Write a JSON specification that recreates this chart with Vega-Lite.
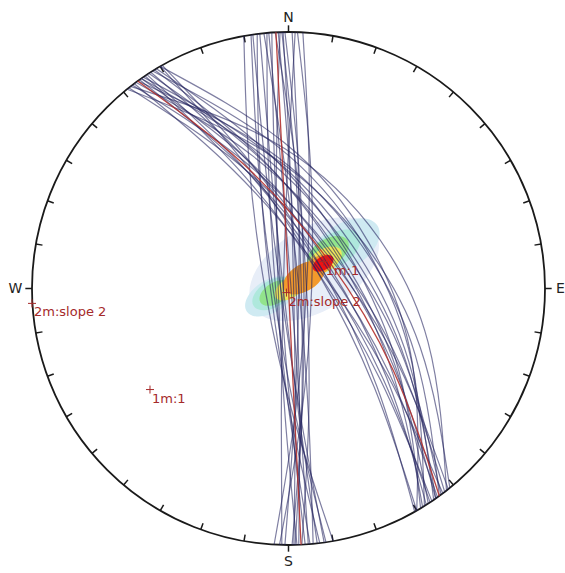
{
"$schema":"https://vega.github.io/schema/vega-lite/v6.json",
"width":513,"height":513,"autosize":{"type":"none"},
"padding":{"left":32,"top":32,"right":20,"bottom":28},
"background":"white","view":{"stroke":null},
"datasets":{
"curves":[
{"g":1,"m":0,"i":0,"x":-0.174,"y":0.985},{"g":1,"m":0,"i":1,"x":-0.153,"y":0.481},{"g":1,"m":0,"i":2,"x":-0.089,"y":-0.016},{"g":1,"m":0,"i":3,"x":0.020,"y":-0.504},{"g":1,"m":0,"i":4,"x":0.174,"y":-0.985},
{"g":2,"m":0,"i":0,"x":-0.146,"y":0.989},{"g":2,"m":0,"i":1,"x":-0.118,"y":0.488},{"g":2,"m":0,"i":2,"x":-0.059,"y":-0.009},{"g":2,"m":0,"i":3,"x":0.029,"y":-0.501},{"g":2,"m":0,"i":4,"x":0.146,"y":-0.989},
{"g":3,"m":0,"i":0,"x":-0.139,"y":0.990},{"g":3,"m":0,"i":1,"x":-0.092,"y":0.492},{"g":3,"m":0,"i":2,"x":-0.030,"y":-0.004},{"g":3,"m":0,"i":3,"x":0.047,"y":-0.498},{"g":3,"m":0,"i":4,"x":0.139,"y":-0.990},
{"g":4,"m":0,"i":0,"x":-0.122,"y":0.993},{"g":4,"m":0,"i":1,"x":-0.113,"y":0.490},{"g":4,"m":0,"i":2,"x":-0.069,"y":-0.009},{"g":4,"m":0,"i":3,"x":0.009,"y":-0.503},{"g":4,"m":0,"i":4,"x":0.122,"y":-0.993},
{"g":5,"m":0,"i":0,"x":-0.112,"y":0.994},{"g":5,"m":0,"i":1,"x":-0.071,"y":0.495},{"g":5,"m":0,"i":2,"x":-0.020,"y":-0.002},{"g":5,"m":0,"i":3,"x":0.041,"y":-0.499},{"g":5,"m":0,"i":4,"x":0.112,"y":-0.994},
{"g":6,"m":0,"i":0,"x":-0.084,"y":0.997},{"g":6,"m":0,"i":1,"x":-0.079,"y":0.495},{"g":6,"m":0,"i":2,"x":-0.050,"y":-0.004},{"g":6,"m":0,"i":3,"x":0.005,"y":-0.501},{"g":6,"m":0,"i":4,"x":0.084,"y":-0.997},
{"g":7,"m":0,"i":0,"x":-0.077,"y":0.997},{"g":7,"m":0,"i":1,"x":-0.031,"y":0.499},{"g":7,"m":0,"i":2,"x":0.010,"y":0.001},{"g":7,"m":0,"i":3,"x":0.046,"y":-0.498},{"g":7,"m":0,"i":4,"x":0.077,"y":-0.997},
{"g":8,"m":0,"i":0,"x":-0.065,"y":0.998},{"g":8,"m":0,"i":1,"x":-0.055,"y":0.498},{"g":8,"m":0,"i":2,"x":-0.030,"y":-0.002},{"g":8,"m":0,"i":3,"x":0.010,"y":-0.501},{"g":8,"m":0,"i":4,"x":0.065,"y":-0.998},
{"g":9,"m":1,"i":0,"x":-0.049,"y":0.999},{"g":9,"m":1,"i":1,"x":-0.024,"y":0.499},{"g":9,"m":1,"i":2,"x":0.0,"y":0.0},{"g":9,"m":1,"i":3,"x":0.024,"y":-0.499},{"g":9,"m":1,"i":4,"x":0.049,"y":-0.999},
{"g":10,"m":0,"i":0,"x":-0.040,"y":0.999},{"g":10,"m":0,"i":1,"x":0.002,"y":0.500},{"g":10,"m":0,"i":2,"x":0.030,"y":0.001},{"g":10,"m":0,"i":3,"x":0.043,"y":-0.499},{"g":10,"m":0,"i":4,"x":0.040,"y":-0.999},
{"g":11,"m":0,"i":0,"x":-0.033,"y":0.999},{"g":11,"m":0,"i":1,"x":-0.047,"y":0.499},{"g":11,"m":0,"i":2,"x":-0.040,"y":-0.001},{"g":11,"m":0,"i":3,"x":-0.013,"y":-0.501},{"g":11,"m":0,"i":4,"x":0.033,"y":-0.999},
{"g":12,"m":0,"i":0,"x":-0.026,"y":1.000},{"g":12,"m":0,"i":1,"x":0.024,"y":0.501},{"g":12,"m":0,"i":2,"x":0.050,"y":0.001},{"g":12,"m":0,"i":3,"x":0.051,"y":-0.499},{"g":12,"m":0,"i":4,"x":0.026,"y":-1.000},
{"g":13,"m":0,"i":0,"x":-0.021,"y":1.000},{"g":13,"m":0,"i":1,"x":0.005,"y":0.500},{"g":13,"m":0,"i":2,"x":0.020,"y":0.000},{"g":13,"m":0,"i":3,"x":0.026,"y":-0.500},{"g":13,"m":0,"i":4,"x":0.021,"y":-1.000},
{"g":14,"m":0,"i":0,"x":-0.014,"y":1.000},{"g":14,"m":0,"i":1,"x":0.038,"y":0.501},{"g":14,"m":0,"i":2,"x":0.060,"y":0.001},{"g":14,"m":0,"i":3,"x":0.052,"y":-0.499},{"g":14,"m":0,"i":4,"x":0.014,"y":-1.000},
{"g":15,"m":0,"i":0,"x":0.014,"y":1.000},{"g":15,"m":0,"i":1,"x":0.037,"y":0.500},{"g":15,"m":0,"i":2,"x":0.040,"y":-0.001},{"g":15,"m":0,"i":3,"x":0.023,"y":-0.500},{"g":15,"m":0,"i":4,"x":-0.014,"y":-1.000},
{"g":16,"m":0,"i":0,"x":0.056,"y":0.998},{"g":16,"m":0,"i":1,"x":0.080,"y":0.496},{"g":16,"m":0,"i":2,"x":0.070,"y":-0.004},{"g":16,"m":0,"i":3,"x":0.025,"y":-0.502},{"g":16,"m":0,"i":4,"x":-0.056,"y":-0.998},
{"g":17,"m":0,"i":0,"x":0.035,"y":0.999},{"g":17,"m":0,"i":1,"x":0.085,"y":0.497},{"g":17,"m":0,"i":2,"x":0.090,"y":-0.003},{"g":17,"m":0,"i":3,"x":0.050,"y":-0.502},{"g":17,"m":0,"i":4,"x":-0.035,"y":-0.999},
{"g":18,"m":0,"i":0,"x":-0.096,"y":0.995},{"g":18,"m":0,"i":1,"x":-0.018,"y":0.501},{"g":18,"m":0,"i":2,"x":0.040,"y":0.004},{"g":18,"m":0,"i":3,"x":0.078,"y":-0.495},{"g":18,"m":0,"i":4,"x":0.096,"y":-0.995},
{"g":19,"m":0,"i":0,"x":0.026,"y":1.000},{"g":19,"m":0,"i":1,"x":-0.002,"y":0.500},{"g":19,"m":0,"i":2,"x":-0.020,"y":0.001},{"g":19,"m":0,"i":3,"x":-0.028,"y":-0.500},{"g":19,"m":0,"i":4,"x":-0.026,"y":-1.000},
{"g":20,"m":0,"i":0,"x":-0.052,"y":0.999},{"g":20,"m":0,"i":1,"x":0.026,"y":0.502},{"g":20,"m":0,"i":2,"x":0.070,"y":0.004},{"g":20,"m":0,"i":3,"x":0.079,"y":-0.497},{"g":20,"m":0,"i":4,"x":0.052,"y":-0.999},
{"g":21,"m":1,"i":0,"x":-0.588,"y":0.809},{"g":21,"m":1,"i":1,"x":-0.179,"y":0.488},{"g":21,"m":1,"i":2,"x":0.154,"y":0.112},{"g":21,"m":1,"i":3,"x":0.409,"y":-0.321},{"g":21,"m":1,"i":4,"x":0.588,"y":-0.809},
{"g":22,"m":0,"i":0,"x":-0.629,"y":0.777},{"g":22,"m":0,"i":1,"x":-0.117,"y":0.549},{"g":22,"m":0,"i":2,"x":0.264,"y":0.214},{"g":22,"m":0,"i":3,"x":0.513,"y":-0.228},{"g":22,"m":0,"i":4,"x":0.629,"y":-0.777},
{"g":23,"m":0,"i":0,"x":-0.616,"y":0.788},{"g":23,"m":0,"i":1,"x":-0.072,"y":0.579},{"g":23,"m":0,"i":2,"x":0.315,"y":0.246},{"g":23,"m":0,"i":3,"x":0.544,"y":-0.209},{"g":23,"m":0,"i":4,"x":0.616,"y":-0.788},
{"g":24,"m":0,"i":0,"x":-0.609,"y":0.793},{"g":24,"m":0,"i":1,"x":-0.174,"y":0.497},{"g":24,"m":0,"i":2,"x":0.175,"y":0.134},{"g":24,"m":0,"i":3,"x":0.435,"y":-0.296},{"g":24,"m":0,"i":4,"x":0.609,"y":-0.793},
{"g":25,"m":0,"i":0,"x":-0.602,"y":0.799},{"g":25,"m":0,"i":1,"x":-0.217,"y":0.463},{"g":25,"m":0,"i":2,"x":0.112,"y":0.084},{"g":25,"m":0,"i":3,"x":0.385,"y":-0.336},{"g":25,"m":0,"i":4,"x":0.602,"y":-0.799},
{"g":26,"m":0,"i":0,"x":-0.595,"y":0.804},{"g":26,"m":0,"i":1,"x":-0.141,"y":0.518},{"g":26,"m":0,"i":2,"x":0.209,"y":0.155},{"g":26,"m":0,"i":3,"x":0.454,"y":-0.286},{"g":26,"m":0,"i":4,"x":0.595,"y":-0.804},
{"g":27,"m":0,"i":0,"x":-0.581,"y":0.814},{"g":27,"m":0,"i":1,"x":-0.187,"y":0.481},{"g":27,"m":0,"i":2,"x":0.138,"y":0.099},{"g":27,"m":0,"i":3,"x":0.394,"y":-0.333},{"g":27,"m":0,"i":4,"x":0.581,"y":-0.814},
{"g":28,"m":0,"i":0,"x":-0.574,"y":0.819},{"g":28,"m":0,"i":1,"x":-0.158,"y":0.500},{"g":28,"m":0,"i":2,"x":0.172,"y":0.120},{"g":28,"m":0,"i":3,"x":0.416,"y":-0.319},{"g":28,"m":0,"i":4,"x":0.574,"y":-0.819},
{"g":29,"m":0,"i":0,"x":-0.566,"y":0.824},{"g":29,"m":0,"i":1,"x":-0.098,"y":0.540},{"g":29,"m":0,"i":2,"x":0.247,"y":0.170},{"g":29,"m":0,"i":3,"x":0.469,"y":-0.285},{"g":29,"m":0,"i":4,"x":0.566,"y":-0.824},
{"g":30,"m":0,"i":0,"x":-0.559,"y":0.829},{"g":30,"m":0,"i":1,"x":-0.199,"y":0.469},{"g":30,"m":0,"i":2,"x":0.108,"y":0.073},{"g":30,"m":0,"i":3,"x":0.360,"y":-0.360},{"g":30,"m":0,"i":4,"x":0.559,"y":-0.829},
{"g":31,"m":0,"i":0,"x":-0.545,"y":0.839},{"g":31,"m":0,"i":1,"x":-0.121,"y":0.517},{"g":31,"m":0,"i":2,"x":0.201,"y":0.131},{"g":31,"m":0,"i":3,"x":0.423,"y":-0.321},{"g":31,"m":0,"i":4,"x":0.545,"y":-0.839},
{"g":32,"m":0,"i":0,"x":-0.537,"y":0.843},{"g":32,"m":0,"i":1,"x":-0.155,"y":0.494},{"g":32,"m":0,"i":2,"x":0.152,"y":0.097},{"g":32,"m":0,"i":3,"x":0.383,"y":-0.349},{"g":32,"m":0,"i":4,"x":0.537,"y":-0.843},
{"g":33,"m":0,"i":0,"x":-0.530,"y":0.848},{"g":33,"m":0,"i":1,"x":-0.049,"y":0.559},{"g":33,"m":0,"i":2,"x":0.288,"y":0.180},{"g":33,"m":0,"i":3,"x":0.481,"y":-0.289},{"g":33,"m":0,"i":4,"x":0.530,"y":-0.848},
{"g":34,"m":0,"i":0,"x":-0.515,"y":0.857},{"g":34,"m":0,"i":1,"x":-0.084,"y":0.533},{"g":34,"m":0,"i":2,"x":0.231,"y":0.139},{"g":34,"m":0,"i":3,"x":0.431,"y":-0.324},{"g":34,"m":0,"i":4,"x":0.515,"y":-0.857},
{"g":35,"m":0,"i":0,"x":-0.500,"y":0.866},{"g":35,"m":0,"i":1,"x":-0.166,"y":0.482},{"g":35,"m":0,"i":2,"x":0.113,"y":0.065},{"g":35,"m":0,"i":3,"x":0.334,"y":-0.384},{"g":35,"m":0,"i":4,"x":0.500,"y":-0.866},
{"g":36,"m":0,"i":0,"x":-0.500,"y":0.866},{"g":36,"m":0,"i":1,"x":-0.016,"y":0.568},{"g":36,"m":0,"i":2,"x":0.312,"y":0.180},{"g":36,"m":0,"i":3,"x":0.484,"y":-0.298},{"g":36,"m":0,"i":4,"x":0.500,"y":-0.866},
{"g":37,"m":0,"i":0,"x":-0.492,"y":0.870},{"g":37,"m":0,"i":1,"x":-0.148,"y":0.491},{"g":37,"m":0,"i":2,"x":0.131,"y":0.074},{"g":37,"m":0,"i":3,"x":0.344,"y":-0.380},{"g":37,"m":0,"i":4,"x":0.492,"y":-0.870},
{"g":38,"m":0,"i":0,"x":-0.623,"y":0.783},{"g":38,"m":0,"i":1,"x":-0.194,"y":0.485},{"g":38,"m":0,"i":2,"x":0.157,"y":0.125},{"g":38,"m":0,"i":3,"x":0.429,"y":-0.298},{"g":38,"m":0,"i":4,"x":0.623,"y":-0.783},
{"g":39,"m":0,"i":0,"x":-0.552,"y":0.834},{"g":39,"m":0,"i":1,"x":-0.182,"y":0.479},{"g":39,"m":0,"i":2,"x":0.125,"y":0.083},{"g":39,"m":0,"i":3,"x":0.370,"y":-0.355},{"g":39,"m":0,"i":4,"x":0.552,"y":-0.834},
{"g":40,"m":0,"i":0,"x":-0.574,"y":0.819},{"g":40,"m":0,"i":1,"x":-0.115,"y":0.530},{"g":40,"m":0,"i":2,"x":0.229,"y":0.161},{"g":40,"m":0,"i":3,"x":0.459,"y":-0.289},{"g":40,"m":0,"i":4,"x":0.574,"y":-0.819},
{"g":41,"m":0,"i":0,"x":-0.523,"y":0.853},{"g":41,"m":0,"i":1,"x":-0.114,"y":0.516},{"g":41,"m":0,"i":2,"x":0.196,"y":0.120},{"g":41,"m":0,"i":3,"x":0.408,"y":-0.336},{"g":41,"m":0,"i":4,"x":0.523,"y":-0.853},
{"g":42,"m":0,"i":0,"x":-0.588,"y":0.809},{"g":42,"m":0,"i":1,"x":-0.094,"y":0.550},{"g":42,"m":0,"i":2,"x":0.267,"y":0.194},{"g":42,"m":0,"i":3,"x":0.494,"y":-0.259},{"g":42,"m":0,"i":4,"x":0.588,"y":-0.809}
],
"ticks":[
{"x":0.1736,"y":0.9848,"x2":0.1691,"y2":0.9592},{"x":-0.1736,"y":0.9848,"x2":-0.1691,"y2":0.9592},{"x":0.1736,"y":-0.9848,"x2":0.1691,"y2":-0.9592},{"x":-0.1736,"y":-0.9848,"x2":-0.1691,"y2":-0.9592},
{"x":0.3420,"y":0.9397,"x2":0.3331,"y2":0.9153},{"x":-0.3420,"y":0.9397,"x2":-0.3331,"y2":0.9153},{"x":0.3420,"y":-0.9397,"x2":0.3331,"y2":-0.9153},{"x":-0.3420,"y":-0.9397,"x2":-0.3331,"y2":-0.9153},
{"x":0.5,"y":0.8660,"x2":0.487,"y2":0.8435},{"x":-0.5,"y":0.8660,"x2":-0.487,"y2":0.8435},{"x":0.5,"y":-0.8660,"x2":0.487,"y2":-0.8435},{"x":-0.5,"y":-0.8660,"x2":-0.487,"y2":-0.8435},
{"x":0.6428,"y":0.7660,"x2":0.6261,"y2":0.7461},{"x":-0.6428,"y":0.7660,"x2":-0.6261,"y2":0.7461},{"x":0.6428,"y":-0.7660,"x2":0.6261,"y2":-0.7461},{"x":-0.6428,"y":-0.7660,"x2":-0.6261,"y2":-0.7461},
{"x":0.7660,"y":0.6428,"x2":0.7461,"y2":0.6261},{"x":-0.7660,"y":0.6428,"x2":-0.7461,"y2":0.6261},{"x":0.7660,"y":-0.6428,"x2":0.7461,"y2":-0.6261},{"x":-0.7660,"y":-0.6428,"x2":-0.7461,"y2":-0.6261},
{"x":0.8660,"y":0.5,"x2":0.8435,"y2":0.487},{"x":-0.8660,"y":0.5,"x2":-0.8435,"y2":0.487},{"x":0.8660,"y":-0.5,"x2":0.8435,"y2":-0.487},{"x":-0.8660,"y":-0.5,"x2":-0.8435,"y2":-0.487},
{"x":0.9397,"y":0.3420,"x2":0.9153,"y2":0.3331},{"x":-0.9397,"y":0.3420,"x2":-0.9153,"y2":0.3331},{"x":0.9397,"y":-0.3420,"x2":0.9153,"y2":-0.3331},{"x":-0.9397,"y":-0.3420,"x2":-0.9153,"y2":-0.3331},
{"x":0.9848,"y":0.1736,"x2":0.9592,"y2":0.1691},{"x":-0.9848,"y":0.1736,"x2":-0.9592,"y2":0.1691},{"x":0.9848,"y":-0.1736,"x2":0.9592,"y2":-0.1691},{"x":-0.9848,"y":-0.1736,"x2":-0.9592,"y2":-0.1691},
{"x":0,"y":1,"x2":0,"y2":1.026},{"x":0,"y":-1,"x2":0,"y2":-1.026},{"x":1,"y":0,"x2":1.026,"y2":0},{"x":-1,"y":0,"x2":-1.026,"y2":0}
],
"blob":[
{"lvl":0,"x":0.10,"y":0.075,"len":0.56},
{"lvl":1,"x":0.22,"y":0.165,"len":0.30},{"lvl":1,"x":-0.07,"y":-0.03,"len":0.22},
{"lvl":2,"x":0.18,"y":0.15,"len":0.22},{"lvl":2,"x":-0.06,"y":-0.02,"len":0.18},
{"lvl":3,"x":0.154,"y":0.14,"len":0.18},{"lvl":3,"x":-0.05,"y":-0.017,"len":0.14},
{"lvl":4,"x":0.14,"y":0.11,"len":0.15},{"lvl":4,"x":0.005,"y":0.0,"len":0.13},
{"lvl":5,"x":0.06,"y":0.042,"len":0.18},{"lvl":5,"x":0.12,"y":0.09,"len":0.12},
{"lvl":6,"x":0.135,"y":0.098,"len":0.09}
],
"pts":[
{"x":-0.540,"y":-0.394,"label":"1m:1"},
{"x":-1.0,"y":-0.058,"label":"2m:slope 2"},
{"x":0.137,"y":0.105,"label":"1m:1"},
{"x":-0.008,"y":-0.016,"label":"2m:slope 2"}
],
"card":[
{"x":0,"y":1.055,"t":"N"},{"x":0,"y":-1.066,"t":"S"},{"x":1.06,"y":0,"t":"E"},{"x":-1.065,"y":0,"t":"W"}
]
},
"encoding":{
"x":{"field":"x","type":"quantitative","scale":{"domain":[-1,1],"nice":false,"zero":false},"axis":null},
"y":{"field":"y","type":"quantitative","scale":{"domain":[-1,1],"nice":false,"zero":false},"axis":null}
},
"layer":[
{"data":{"values":[{"x":0,"y":0}]},"mark":{"type":"point","shape":"circle","size":263169,"filled":false,"stroke":"#1a1a1a","strokeWidth":1.8,"opacity":1}},
{"data":{"name":"ticks"},"mark":{"type":"rule","stroke":"#1a1a1a","strokeWidth":1.5},
 "encoding":{"x2":{"field":"x2"},"y2":{"field":"y2"}}},
{"data":{"name":"blob"},"mark":{"type":"point","filled":true,"opacity":1,"strokeWidth":0,"angle":-32,"shape":"M-1,0A1,0.58,0,1,1,1,0A1,0.58,0,1,1,-1,0Z"},
 "encoding":{
  "size":{"field":"len","type":"quantitative","scale":{"type":"pow","exponent":2,"domain":[0,2],"range":[0,263169]},"legend":null},
  "color":{"field":"lvl","type":"ordinal","scale":{"domain":[0,1,2,3,4,5,6],"range":["#e8eef8","#cfeaf2","#aee8dc","#92e48c","#efe85a","#f39a2c","#f01212"]},"legend":null}}},
{"data":{"name":"curves"},"transform":[{"filter":"datum.m == 0"}],
 "mark":{"type":"line","interpolate":"natural","stroke":"#23235e","strokeWidth":1.2,"opacity":0.58},
 "encoding":{"detail":{"field":"g"},"order":{"field":"i"}}},
{"data":{"name":"curves"},"transform":[{"filter":"datum.m == 1"}],
 "mark":{"type":"line","interpolate":"natural","stroke":"#b3302c","strokeWidth":1.3,"opacity":0.9},
 "encoding":{"detail":{"field":"g"},"order":{"field":"i"}}},
{"data":{"name":"pts"},"mark":{"type":"point","shape":"M-1,0L1,0M0,-1L0,1","size":64,"filled":false,"stroke":"#a52a2a","strokeWidth":1,"opacity":1}},
{"data":{"name":"pts"},"mark":{"type":"text","align":"left","baseline":"middle","dx":2,"dy":9,"font":"DejaVu Sans","fontSize":13,"color":"#a52a2a"},
 "encoding":{"text":{"field":"label"}}},
{"data":{"name":"card"},"mark":{"type":"text","align":"center","baseline":"middle","font":"DejaVu Sans","fontSize":14,"color":"#222222"},
 "encoding":{"text":{"field":"t"}}}
]
}
